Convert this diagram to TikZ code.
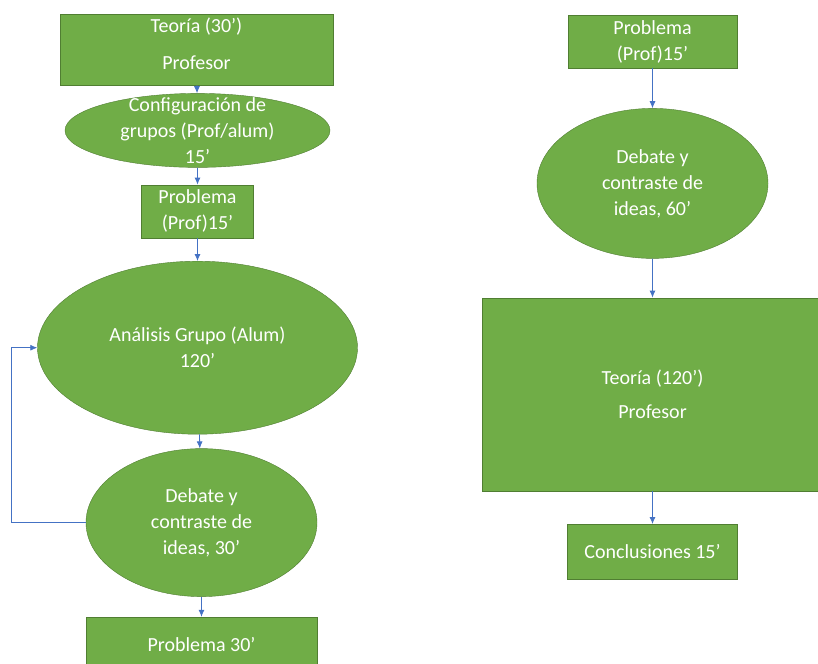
\documentclass[tikz,border=0pt]{standalone}
\usepackage{fontspec}
\setmainfont{Carlito}
\usetikzlibrary{shapes.geometric, arrows.meta, positioning}
\definecolor{officegreen}{RGB}{112, 173, 71}
\definecolor{officeline}{RGB}{80, 126, 50}
\definecolor{arrowblue}{RGB}{68, 114, 196}

\begin{document}
\begin{tikzpicture}[
    x=1pt, y=-1pt,
    box/.style={rectangle, draw=officeline, fill=officegreen, text=white,
        inner sep=0pt, align=center, font={\fontsize{20}{26}\selectfont}},
    oval/.style={ellipse, draw=officeline, fill=officegreen, text=white,
        inner sep=0pt, align=center, font={\fontsize{20}{26}\selectfont}},
    ovaltext/.style={text=white, inner sep=0pt, align=center, font={\fontsize{20}{26}\selectfont}},
    arrow/.style={-{Latex[length=7pt,width=6pt]},arrowblue,line width=0.8pt}
]
    \useasboundingbox (0,0) rectangle (818,663);

    % Left column
    \node[box, minimum width=273pt, minimum height=71pt] (teoria30) at (196.5,49.5) {};
    \node[ovaltext, yshift=6pt] (teoria30text) at (teoria30) {Teoría (30’)\\[11pt]Profesor};
    \node[oval, minimum width=265pt, minimum height=74pt, below=8pt of teoria30, xshift=1pt] (config) {};
    \node[ovaltext] (configtext) at (config) {Configuración de\\grupos (Prof/alum)\\15’};
    \node[box, minimum width=112pt, minimum height=53pt, below=17pt of config] (prob15) {Problema\\(Prof)15’};
    \node[oval, minimum width=320pt, minimum height=173pt, below=23pt of prob15] (analisis) {Análisis Grupo (Alum)\\120’};
    \node[oval, minimum width=231pt, minimum height=148pt, below=14pt of analisis, xshift=4pt] (debate30) {Debate y\\contraste de\\ideas, 30’};
    \node[box, minimum width=231pt, minimum height=55pt, below=20pt of debate30] (prob30) {Problema 30’};

    % Right column
    \node[box, minimum width=169pt, minimum height=53pt] (probR) at (652.5,41.5) {Problema\\(Prof)15’};
    \node[oval, minimum width=231pt, minimum height=150pt, below=40pt of probR] (debate60) {Debate y\\contraste de\\ideas, 60’};
    \node[box, minimum width=340pt, minimum height=193pt, below=39pt of debate60] (teoria120) {Teoría (120’)\\[8pt]Profesor};
    \node[box, minimum width=170pt, minimum height=55pt, below=33pt of teoria120] (concl) {Conclusiones 15’};

    % Arrows
    \draw[arrow] (teoria30) -- (config);
    \draw[arrow] (config) -- (prob15);
    \draw[arrow] (prob15) -- (analisis);
    \draw[arrow] (analisis) -- (debate30);
    \draw[arrow] (debate30) -- (prob30);
    \draw[arrow] (debate30.west) -- ++(-74pt,0) |- (analisis.west);
    \draw[arrow] (probR) -- (debate60);
    \draw[arrow] (debate60) -- (teoria120);
    \draw[arrow] (teoria120) -- (concl);
\end{tikzpicture}
\end{document}
